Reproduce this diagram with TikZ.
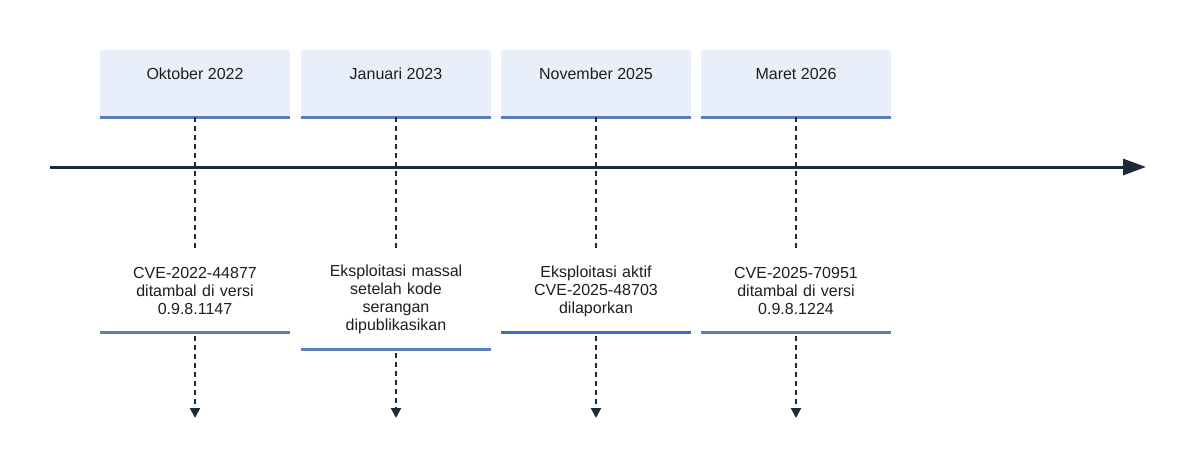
\documentclass[tikz,border=0pt]{standalone}
\usepackage{fontspec}
\setmainfont{Liberation Sans}
\usetikzlibrary{arrows.meta}
\definecolor{boxfill}{HTML}{E8EFFA}
\definecolor{boxline}{HTML}{5B7DB8}
\definecolor{boxline2}{HTML}{3C6CC0}
\definecolor{axiscol}{HTML}{1C2A38}
\definecolor{txt}{HTML}{1E1E1E}
\tikzset{
  x=1pt,y=-1pt,
  every node/.style={font=\fontsize{16}{18}\selectfont, text=txt},
  topbox/.style={fill=boxfill, rounded corners=3pt, minimum width=190pt, inner xsep=0pt,
     inner ysep=17.5pt, text height=12pt, text depth=20pt, anchor=north},
  card/.style={minimum width=190pt, text width=190pt, align=center, inner sep=0pt, anchor=north},
  underline/.style={draw=boxline, line width=3pt},
  dashconn/.style={draw=axiscol, line width=2pt, dash pattern=on 5pt off 4pt},
  dasharrow/.style={dashconn, -{Triangle[length=10pt,width=10pt]}, shorten <=4pt},
  axis/.style={draw=axiscol, line width=3pt, -{Triangle[length=23pt,width=16pt]}},
}
\begin{document}
\begin{tikzpicture}
\useasboundingbox (0,0) rectangle (1200,471);
% top boxes
\node[topbox] (t1) at (195,50) {Oktober 2022};
\node[topbox] (t2) at (396,50) {Januari 2023};
\node[topbox] (t3) at (596,50) {November 2025};
\node[topbox] (t4) at (796,50) {Maret 2026};
\foreach \n in {t1,t2,t3,t4}{\draw[underline] (\n.south west) -- (\n.south east);}
% bottom cards
\node[card, minimum height=82pt] (b1) at (195,250) {CVE-2022-44877\\ditambal di versi\\0.9.8.1147};
\node[card, minimum height=99pt] (b2) at (396,250) {Eksploitasi massal\\setelah kode\\serangan\\dipublikasikan};
\node[card, minimum height=82pt] (b3) at (596,250) {Eksploitasi aktif\\CVE-2025-48703\\dilaporkan};
\node[card, minimum height=82pt] (b4) at (796,250) {CVE-2025-70951\\ditambal di versi\\0.9.8.1224};
\draw[underline] (b1.south west) -- (b1.south east);
\draw[underline] (b2.south west) -- (b2.south east);
\draw[underline, draw=boxline2] (b3.south west) -- (b3.south east);
\draw[underline] (b4.south west) -- (b4.south east);
% end points of the downward arrows
\coordinate (e1) at (195,418);
\coordinate (e2) at (396,418);
\coordinate (e3) at (596,418);
\coordinate (e4) at (796,418);
% connectors
\foreach \i in {1,2,3,4}{
  \draw[dashconn] (t\i.south) -- (b\i.north);
  \draw[dasharrow] (b\i.south) -- (e\i);
}
% axis
\coordinate (a0) at (50,167);
\coordinate (a1) at (1146,167);
\draw[axis] (a0) -- (a1);
\end{tikzpicture}
\end{document}
